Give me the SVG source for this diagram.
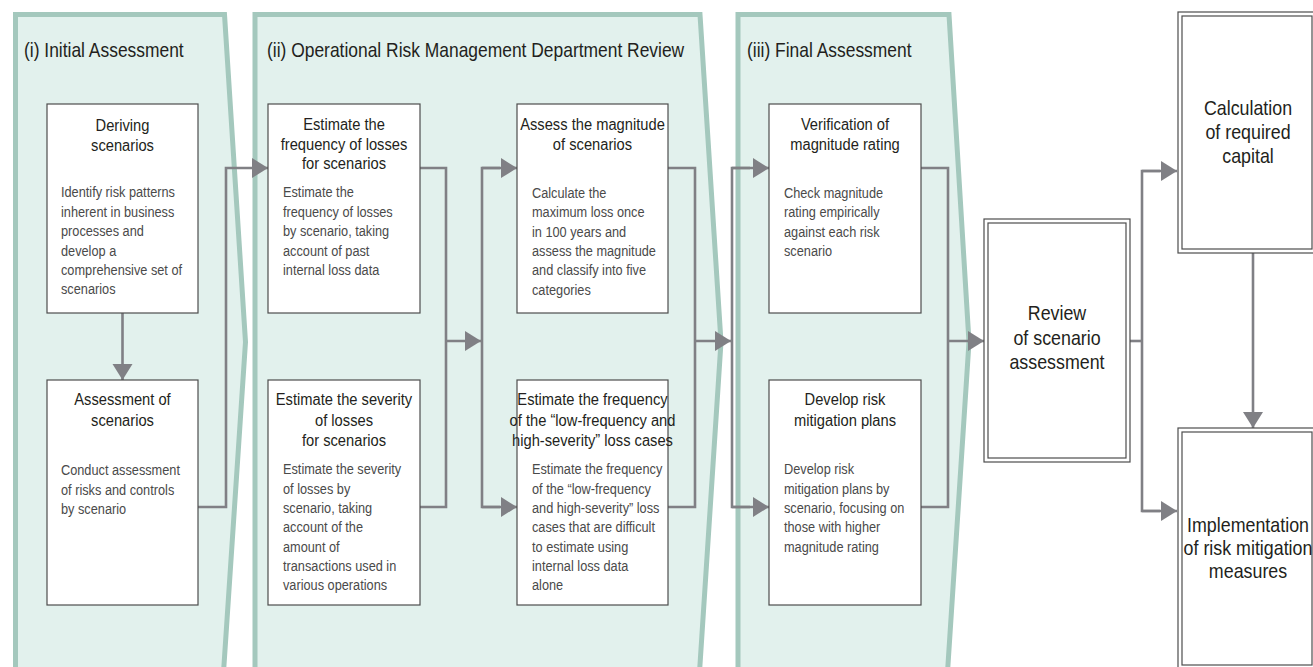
<svg xmlns="http://www.w3.org/2000/svg" width="1313" height="667" viewBox="0 0 1313 667">
<style>
text { font-family: "Liberation Sans", Arial, sans-serif; }
.panel { fill: #e2f1ed; stroke: #a4c8bd; stroke-width: 5; }
.pt { font-size: 20.5px; fill: #231f20; }
.box { fill: #ffffff; stroke: #4d4d4d; stroke-width: 1.2; }
.bt { font-size: 17.3px; fill: #231f20; text-anchor: middle; }
.bd { font-size: 15px; fill: #4a4a4a; }
.big { font-size: 21px; fill: #231f20; text-anchor: middle; }
.con { fill: none; stroke: #808085; stroke-width: 2.6; }
</style>
<defs>
<marker id="ah" markerUnits="userSpaceOnUse" markerWidth="18" markerHeight="22" refX="16" refY="10" orient="auto">
<path d="M0,0 L16,10 L0,20 Z" fill="#808085"/>
</marker>
</defs>
<rect x="0" y="0" width="1313" height="667" fill="#ffffff"/>

<g id="panel-i">
<path class="panel" d="M15.5,14.5 L224.5,14.5 L245.5,342 L223,680 L15.5,680 Z"/>
<text class="pt" transform="translate(24,57) scale(0.85,1)">(i) Initial Assessment</text>
</g>
<g id="panel-ii">
<path class="panel" d="M255,14.5 L700,14.5 L721,342 L699,680 L255,680 Z"/>
<text class="pt" transform="translate(267,57) scale(0.85,1)">(ii) Operational Risk Management Department Review</text>
</g>
<g id="panel-iii">
<path class="panel" d="M738,14.5 L949,14.5 L969,342 L947,680 L738,680 Z"/>
<text class="pt" transform="translate(747,57) scale(0.85,1)">(iii) Final Assessment</text>
</g>

<g id="connectors">
<path class="con" d="M122.5,313 L122.5,380" marker-end="url(#ah)"/>
<path class="con" d="M198,507 L226,507 L226,168 L268,168" marker-end="url(#ah)"/>
<path class="con" d="M420,168 L446,168 L446,507 L420,507"/>
<path class="con" d="M446,341 L481,341" marker-end="url(#ah)"/>
<path class="con" d="M500,168 L482,168 L482,507 L500,507"/>
<path class="con" d="M482,168 L517,168" marker-end="url(#ah)"/>
<path class="con" d="M482,507 L517,507" marker-end="url(#ah)"/>
<path class="con" d="M668,168 L695,168 L695,507 L668,507"/>
<path class="con" d="M695,341 L731,341" marker-end="url(#ah)"/>
<path class="con" d="M750,168 L732,168 L732,507 L750,507"/>
<path class="con" d="M732,168 L769,168" marker-end="url(#ah)"/>
<path class="con" d="M732,507 L769,507" marker-end="url(#ah)"/>
<path class="con" d="M921,168 L948,168 L948,507 L921,507"/>
<path class="con" d="M948,341 L984,341" marker-end="url(#ah)"/>
<path class="con" d="M1130,341 L1142,341"/>
<path class="con" d="M1160,171 L1142,171 L1142,511 L1160,511"/>
<path class="con" d="M1142,171 L1177,171" marker-end="url(#ah)"/>
<path class="con" d="M1142,511 L1177,511" marker-end="url(#ah)"/>
<path class="con" d="M1253,253 L1253,428" marker-end="url(#ah)"/>
</g>

<g id="deriving-scenarios">
<rect class="box" x="47" y="104" width="151" height="209"/>
<text class="bt" transform="translate(122.5,131) scale(0.85,1)">Deriving</text>
<text class="bt" transform="translate(122.5,151) scale(0.85,1)">scenarios</text>
<text class="bd" transform="translate(61,197) scale(0.85,1)">Identify risk patterns</text>
<text class="bd" transform="translate(61,216.5) scale(0.85,1)">inherent in business</text>
<text class="bd" transform="translate(61,236) scale(0.85,1)">processes and</text>
<text class="bd" transform="translate(61,255.5) scale(0.85,1)">develop a</text>
<text class="bd" transform="translate(61,275) scale(0.85,1)">comprehensive set of</text>
<text class="bd" transform="translate(61,294) scale(0.85,1)">scenarios</text>
</g>
<g id="assessment-of-scenarios">
<rect class="box" x="47" y="380" width="151" height="225"/>
<text class="bt" transform="translate(122.5,405) scale(0.85,1)">Assessment of</text>
<text class="bt" transform="translate(122.5,426) scale(0.85,1)">scenarios</text>
<text class="bd" transform="translate(61,475) scale(0.85,1)">Conduct assessment</text>
<text class="bd" transform="translate(61,494.5) scale(0.85,1)">of risks and controls</text>
<text class="bd" transform="translate(61,514) scale(0.85,1)">by scenario</text>
</g>

<g id="estimate-frequency">
<rect class="box" x="268" y="104" width="152" height="209"/>
<text class="bt" transform="translate(344,130) scale(0.85,1)">Estimate the</text>
<text class="bt" transform="translate(344,149.5) scale(0.85,1)">frequency of losses</text>
<text class="bt" transform="translate(344,169) scale(0.85,1)">for scenarios</text>
<text class="bd" transform="translate(283,197) scale(0.85,1)">Estimate the</text>
<text class="bd" transform="translate(283,216.5) scale(0.85,1)">frequency of losses</text>
<text class="bd" transform="translate(283,236) scale(0.85,1)">by scenario, taking</text>
<text class="bd" transform="translate(283,255.5) scale(0.85,1)">account of past</text>
<text class="bd" transform="translate(283,275) scale(0.85,1)">internal loss data</text>
</g>
<g id="estimate-severity">
<rect class="box" x="268" y="380" width="152" height="225"/>
<text class="bt" transform="translate(344,405) scale(0.85,1)">Estimate the severity</text>
<text class="bt" transform="translate(344,425.5) scale(0.85,1)">of losses</text>
<text class="bt" transform="translate(344,446) scale(0.85,1)">for scenarios</text>
<text class="bd" transform="translate(283,474) scale(0.85,1)">Estimate the severity</text>
<text class="bd" transform="translate(283,493.5) scale(0.85,1)">of losses by</text>
<text class="bd" transform="translate(283,513) scale(0.85,1)">scenario, taking</text>
<text class="bd" transform="translate(283,532) scale(0.85,1)">account of the</text>
<text class="bd" transform="translate(283,551.5) scale(0.85,1)">amount of</text>
<text class="bd" transform="translate(283,571) scale(0.85,1)">transactions used in</text>
<text class="bd" transform="translate(283,590) scale(0.85,1)">various operations</text>
</g>
<g id="assess-magnitude">
<rect class="box" x="517" y="104" width="151" height="209"/>
<text class="bt" transform="translate(592.5,130) scale(0.85,1)">Assess the magnitude</text>
<text class="bt" transform="translate(592.5,150) scale(0.85,1)">of scenarios</text>
<text class="bd" transform="translate(532,198) scale(0.85,1)">Calculate the</text>
<text class="bd" transform="translate(532,217) scale(0.85,1)">maximum loss once</text>
<text class="bd" transform="translate(532,236.5) scale(0.85,1)">in 100 years and</text>
<text class="bd" transform="translate(532,256) scale(0.85,1)">assess the magnitude</text>
<text class="bd" transform="translate(532,275) scale(0.85,1)">and classify into five</text>
<text class="bd" transform="translate(532,294.5) scale(0.85,1)">categories</text>
</g>
<g id="estimate-low-frequency">
<rect class="box" x="517" y="380" width="151" height="225"/>
<text class="bt" transform="translate(592.5,405) scale(0.85,1)">Estimate the frequency</text>
<text class="bt" transform="translate(592.5,425.5) scale(0.85,1)">of the “low-frequency and</text>
<text class="bt" transform="translate(592.5,446) scale(0.85,1)">high-severity” loss cases</text>
<text class="bd" transform="translate(532,474) scale(0.85,1)">Estimate the frequency</text>
<text class="bd" transform="translate(532,493.5) scale(0.85,1)">of the “low-frequency</text>
<text class="bd" transform="translate(532,513) scale(0.85,1)">and high-severity” loss</text>
<text class="bd" transform="translate(532,532) scale(0.85,1)">cases that are difficult</text>
<text class="bd" transform="translate(532,551.5) scale(0.85,1)">to estimate using</text>
<text class="bd" transform="translate(532,571) scale(0.85,1)">internal loss data</text>
<text class="bd" transform="translate(532,590) scale(0.85,1)">alone</text>
</g>

<g id="verification-magnitude">
<rect class="box" x="769" y="104" width="152" height="209"/>
<text class="bt" transform="translate(845,130) scale(0.85,1)">Verification of</text>
<text class="bt" transform="translate(845,150) scale(0.85,1)">magnitude rating</text>
<text class="bd" transform="translate(784,198) scale(0.85,1)">Check magnitude</text>
<text class="bd" transform="translate(784,217) scale(0.85,1)">rating empirically</text>
<text class="bd" transform="translate(784,236.5) scale(0.85,1)">against each risk</text>
<text class="bd" transform="translate(784,256) scale(0.85,1)">scenario</text>
</g>
<g id="develop-mitigation">
<rect class="box" x="769" y="380" width="152" height="225"/>
<text class="bt" transform="translate(845,405) scale(0.85,1)">Develop risk</text>
<text class="bt" transform="translate(845,425.5) scale(0.85,1)">mitigation plans</text>
<text class="bd" transform="translate(784,474) scale(0.85,1)">Develop risk</text>
<text class="bd" transform="translate(784,493.5) scale(0.85,1)">mitigation plans by</text>
<text class="bd" transform="translate(784,513) scale(0.85,1)">scenario, focusing on</text>
<text class="bd" transform="translate(784,532) scale(0.85,1)">those with higher</text>
<text class="bd" transform="translate(784,551.5) scale(0.85,1)">magnitude rating</text>
</g>

<g id="review">
<rect class="box" x="984" y="219" width="146" height="243"/>
<rect class="box" x="988" y="223" width="138" height="235"/>
<text class="big" transform="translate(1057,320) scale(0.85,1)">Review</text>
<text class="big" transform="translate(1057,345) scale(0.85,1)">of scenario</text>
<text class="big" transform="translate(1057,369) scale(0.85,1)">assessment</text>
</g>
<g id="calculation">
<rect class="box" x="1178" y="12" width="138" height="241"/>
<rect class="box" x="1182" y="16" width="130" height="233"/>
<text class="big" transform="translate(1248,115) scale(0.85,1)">Calculation</text>
<text class="big" transform="translate(1248,139) scale(0.85,1)">of required</text>
<text class="big" transform="translate(1248,163) scale(0.85,1)">capital</text>
</g>
<g id="implementation">
<rect class="box" x="1178" y="428" width="138" height="245"/>
<rect class="box" x="1182" y="432" width="130" height="233"/>
<text class="big" transform="translate(1248,532) scale(0.85,1)">Implementation</text>
<text class="big" transform="translate(1248,555) scale(0.85,1)">of risk mitigation</text>
<text class="big" transform="translate(1248,578) scale(0.85,1)">measures</text>
</g>
</svg>
